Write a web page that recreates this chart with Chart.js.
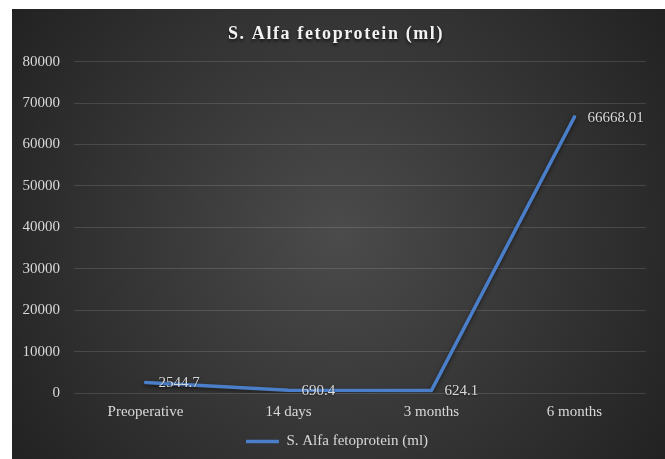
<!DOCTYPE html>
<html lang="en">
<head>
  <meta charset="UTF-8">
  <title>S. Alfa fetoprotein (ml)</title>
  <script src="https://cdn.jsdelivr.net/npm/chart.js"></script>
  <style>
    html, body { margin: 0; padding: 0; background: #fff; }
    #wrap { position: absolute; left: 12px; top: 9px; width: 653px; height: 450px; }
  </style>
</head>
<body>
  <div id="wrap"><canvas id="afpChart" width="653" height="450"></canvas></div>

  <script>
    const categories = ['Preoperative', '14 days', '3 months', '6 months'];
    const afpValues = [2544.7, 690.4, 624.1, 66668.01];
    const seriesName = 'S. Alfa fetoprotein (ml)';
    const yTicks = [0, 10000, 20000, 30000, 40000, 50000, 60000, 70000, 80000];

    const serif = '"Liberation Serif", "Times New Roman", serif';
    const lineBlue = '#4a7ec8';

    // dark radial background like the office chart style
    const backdrop = {
      id: 'backdrop',
      beforeDraw(chart) {
        const { ctx, width, height } = chart;
        const g = ctx.createRadialGradient(width / 2, height / 2, 0, width / 2, height / 2, Math.hypot(width, height) / 2);
        g.addColorStop(0, '#4b4b4b');
        g.addColorStop(1, '#222222');
        ctx.save();
        ctx.fillStyle = g;
        ctx.fillRect(0, 0, width, height);
        ctx.restore();
      }
    };

    // soft shadow under the line
    const lineShadow = {
      id: 'lineShadow',
      beforeDatasetDraw(chart) {
        const ctx = chart.ctx;
        ctx.save();
        ctx.shadowColor = 'rgba(0,0,0,0.55)';
        ctx.shadowBlur = 4;
        ctx.shadowOffsetY = 2;
      },
      afterDatasetDraw(chart) {
        chart.ctx.restore();
      }
    };

    // value labels to the right of each point
    const valueLabels = {
      id: 'valueLabels',
      afterDatasetsDraw(chart) {
        const ctx = chart.ctx;
        const meta = chart.getDatasetMeta(0);
        const data = chart.data.datasets[0].data;
        ctx.save();
        ctx.font = '15px ' + serif;
        ctx.fillStyle = '#d9d9d9';
        ctx.textAlign = 'left';
        ctx.textBaseline = 'middle';
        ctx.shadowColor = 'rgba(0,0,0,0.5)';
        ctx.shadowBlur = 2;
        ctx.shadowOffsetY = 1;
        meta.data.forEach((pt, i) => {
          ctx.fillText(String(data[i]), pt.x + 13, pt.y + 1);
        });
        ctx.restore();
      }
    };

    const chart = new Chart(document.getElementById('afpChart'), {
      type: 'line',
      data: {
        labels: categories,
        datasets: [{
          label: seriesName,
          data: afpValues,
          borderColor: lineBlue,
          backgroundColor: lineBlue,
          borderWidth: 3.5,
          borderCapStyle: 'round',
          borderJoinStyle: 'round',
          pointRadius: 0,
          pointHoverRadius: 0,
          tension: 0
        }]
      },
      options: {
        responsive: false,
        animation: false,
        layout: { padding: { left: 0, right: 19, top: 0, bottom: 0 } },
        scales: {
          x: {
            offset: true,
            grid: { display: false, drawTicks: false },
            border: { display: false },
            ticks: { color: '#d9d9d9', font: { family: serif, size: 15 }, padding: 10, maxRotation: 0 },
            afterFit(scale) { scale.height = 31; }
          },
          y: {
            min: 0,
            max: 80000,
            afterBuildTicks(scale) { scale.ticks = yTicks.map(v => ({ value: v })); },
            grid: { color: 'rgba(255,255,255,0.13)', lineWidth: 1, drawTicks: false, tickLength: 0 },
            border: { display: false },
            ticks: {
              color: '#d9d9d9',
              font: { family: serif, size: 15 },
              padding: 14,
              callback: v => String(v)
            },
            afterFit(scale) { scale.width = 62; }
          }
        },
        plugins: {
          title: {
            display: true,
            text: seriesName,
            color: '#f2f2f2',
            font: { family: serif, size: 18, weight: 'bold' },
            padding: { top: 15, bottom: 16 }
          },
          legend: {
            display: true,
            position: 'bottom',
            labels: {
              color: '#d9d9d9',
              font: { family: serif, size: 15 },
              usePointStyle: true,
              pointStyle: 'line',
              pointStyleWidth: 33,
              padding: 10
            }
          },
          tooltip: { enabled: false }
        }
      },
      plugins: [backdrop, lineShadow, valueLabels]
    });

    // spaced, shadowed title text, centred on the whole chart
    const titleDraw = chart.titleBlock.draw;
    chart.titleBlock.draw = function () {
      const ctx = this.ctx;
      ctx.save();
      ctx.translate(7, 0);
      ctx.letterSpacing = '1.6px';
      ctx.shadowColor = 'rgba(0,0,0,0.7)';
      ctx.shadowBlur = 3;
      ctx.shadowOffsetY = 2;
      titleDraw.apply(this, arguments);
      ctx.restore();
    };
    const legendDraw = chart.legend.draw;
    chart.legend.draw = function () {
      const ctx = this.ctx;
      ctx.save();
      ctx.translate(8, 0);
      legendDraw.apply(this, arguments);
      ctx.restore();
    };
    chart.draw();
  </script>
</body>
</html>
